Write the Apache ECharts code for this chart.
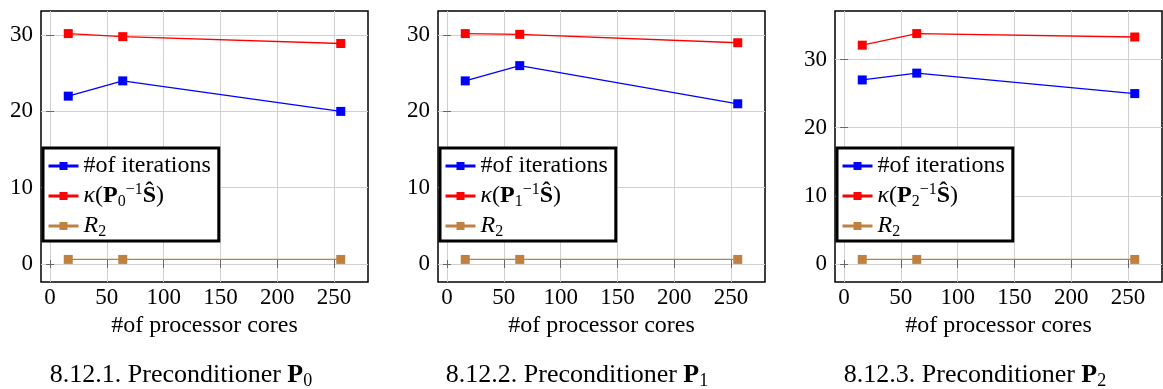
<!DOCTYPE html>
<html><head><meta charset="utf-8">
<script src="https://cdn.jsdelivr.net/npm/echarts@6/dist/echarts.min.js"></script>
<style>html,body{margin:0;padding:0;background:#fff}#c{width:1163px;height:389px}</style>
</head><body><div id="c"></div>
<script>
// ---- data ----
const cores = [16, 64, 256];
const iterP0 = [22, 24, 20];
const kappaP0 = [30.2, 29.8, 28.9];
const r2P0 = [0.6, 0.6, 0.6];
const iterP1 = [24, 26, 21];
const kappaP1 = [30.2, 30.1, 29.0];
const r2P1 = [0.6, 0.6, 0.6];
const iterP2 = [27, 28, 25];
const kappaP2 = [32.1, 33.8, 33.3];
const r2P2 = [0.67, 0.67, 0.67];
const xTicks = [0, 50, 100, 150, 200, 250];
const yTicks = [0, 10, 20, 30];
const captionNums = ['8.12.1.', '8.12.2.', '8.12.3.'];
const captionWord = 'Preconditioner';
const xName = '#of processor cores';
const iterName = '#of iterations';

const panels = [
  {iter: iterP0, kappa: kappaP0, r2: r2P0},
  {iter: iterP1, kappa: kappaP1, r2: r2P1},
  {iter: iterP2, kappa: kappaP2, r2: r2P2}
];

const FONT = 'Liberation Serif';
const BLUE = '#0000ff', RED = '#ff0000', BROWN = '#bf8040';
const gridLefts = [41, 438, 835];
const captionCenters = [181, 577, 975];
const GW = 327, GT = 11, GH = 271;

function enlarge(arr) {
  const mn = Math.min(...arr), mx = Math.max(...arr);
  const d = (mx - mn) * 0.1;
  return [mn - d, mx + d];
}

function richSet(fs, lh, subFs) {
  return {
    n: {fontFamily: FONT, fontSize: fs, lineHeight: lh, color: '#000'},
    i: {fontFamily: FONT, fontSize: fs, lineHeight: lh, fontStyle: 'italic', color: '#000'},
    b: {fontFamily: FONT, fontSize: fs, lineHeight: lh, fontWeight: 'bold', color: '#000'},
    sub: {fontFamily: FONT, fontSize: subFs, lineHeight: subFs + 1, verticalAlign: 'bottom', color: '#000'},
    sup: {fontFamily: FONT, fontSize: subFs, lineHeight: subFs + 1, verticalAlign: 'top', color: '#000'}
  };
}
const legendRich = richSet(24, 28, 16);
const captionRich = richSet(26, 30, 18);

const grid = [], xAxis = [], yAxis = [], series = [], legend = [], graphic = [];
const xr = enlarge(cores);

panels.forEach((p, k) => {
  grid.push({left: gridLefts[k], top: GT, width: GW, height: GH, show: true,
    borderColor: '#000', borderWidth: 1.5, backgroundColor: '#fff', containLabel: false});
  const yr = enlarge([...p.iter, ...p.kappa, ...p.r2]);
  const baseX = {type: 'value', gridIndex: k, min: xr[0], max: xr[1],
    axisLine: {show: false},
    axisTick: {show: true, inside: true, length: 4, customValues: xTicks, lineStyle: {color: '#666', width: 1}},
    splitLine: {show: false}};
  xAxis.push(Object.assign({}, baseX, {position: 'bottom',
    axisLabel: {show: true, customValues: xTicks, fontFamily: FONT, fontSize: 23, color: '#000', margin: 4},
    splitLine: {show: true, lineStyle: {color: '#d0d0d0', width: 1}},
    name: xName, nameLocation: 'middle', nameGap: 31,
    nameTextStyle: {fontFamily: FONT, fontSize: 24, color: '#000'}}));
  xAxis.push(Object.assign({}, baseX, {position: 'top', axisLabel: {show: false}}));
  const baseY = {type: 'value', gridIndex: k, min: yr[0], max: yr[1],
    axisLine: {show: false},
    axisTick: {show: true, inside: true, length: 4, customValues: yTicks, lineStyle: {color: '#666', width: 1}},
    splitLine: {show: false}};
  yAxis.push(Object.assign({}, baseY, {position: 'left',
    axisLabel: {show: true, customValues: yTicks, fontFamily: FONT, fontSize: 23, color: '#000', margin: 8},
    splitLine: {show: true, lineStyle: {color: '#d0d0d0', width: 1}}}));
  yAxis.push(Object.assign({}, baseY, {position: 'right', axisLabel: {show: false}}));

  const defs = [
    {key: 'iter', color: BLUE, data: p.iter},
    {key: 'kappa', color: RED, data: p.kappa},
    {key: 'r2', color: BROWN, data: p.r2}
  ];
  const names = [];
  defs.forEach(d => {
    const nm = d.key + '-' + k;
    names.push(nm);
    series.push({
      name: nm, type: 'line', xAxisIndex: 2 * k, yAxisIndex: 2 * k,
      data: cores.map((c, j) => [c, d.data[j]]),
      symbol: 'rect', symbolSize: 9, showSymbol: true,
      lineStyle: {color: d.color, width: 1.3},
      itemStyle: {color: d.color},
      emphasis: {disabled: true}, animation: false, z: 3
    });
  });
  legend.push({
    data: names,
    orient: 'vertical', left: gridLefts[k] + 2, top: 148,
    backgroundColor: '#fff', borderColor: '#000', borderWidth: 3,
    padding: [6, 8, 1, 4], itemGap: 4, itemWidth: 30, itemHeight: 10,
    lineStyle: {width: 3},
    selectedMode: false,
    formatter: function (name) {
      const key = name.split('-')[0];
      if (key === 'iter') return '{n|' + iterName + '}';
      if (key === 'kappa') return '{i|κ}{n|(}{b|P}{sub|' + k + '}{sup|−1}{b|Ŝ}{n|)}';
      return '{i|R}{sub|2}';
    },
    textStyle: {fontFamily: FONT, fontSize: 24, color: '#000', rich: legendRich}
  });
  graphic.push({
    type: 'text', x: captionCenters[k], y: 375,
    style: {
      text: '{n|' + captionNums[k] + ' ' + captionWord + ' }{b|P}{sub|' + k + '}',
      rich: captionRich, fontFamily: FONT, fontSize: 26, fill: '#000',
      align: 'center', verticalAlign: 'middle'
    }
  });
});

const chart = echarts.init(document.getElementById('c'));
chart.setOption({
  animation: false, backgroundColor: '#fff',
  grid, xAxis, yAxis, series, legend, graphic
});
</script></body></html>
